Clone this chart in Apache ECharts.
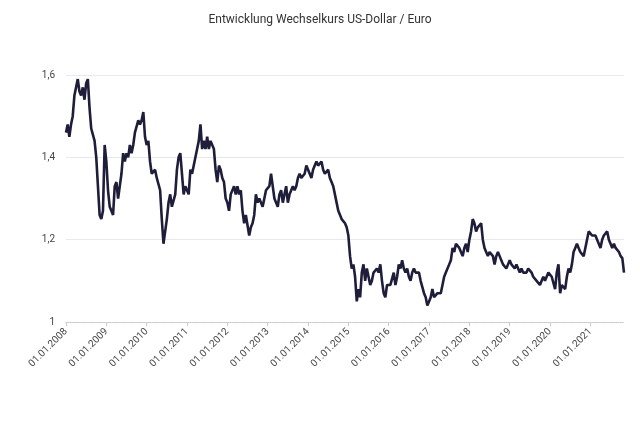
<!DOCTYPE html>
<html>
<head>
<meta charset="utf-8">
<script src="https://cdn.jsdelivr.net/npm/echarts@6/dist/echarts.min.js"></script>
<style>html,body{margin:0;padding:0;background:#fff}#c{width:640px;height:430px}</style>
</head>
<body>
<div id="c"></div>
<script>
const chartTitle = "Entwicklung Wechselkurs US-Dollar / Euro";
const startYear = 2008;
const yTicks = [1, 1.2, 1.4, 1.6];
// semi-monthly readings (1st and 15th of each month)
const v2008 = [1.46,1.48,1.45,1.48,1.50,1.55,1.57,1.59,1.56,1.55,1.57,1.54,1.58,1.59,1.52,1.47,1.47,1.44,1.40,1.33,1.26,1.25,1.27,1.43];
const v2009 = [1.39,1.32,1.28,1.27,1.26,1.33,1.34,1.30,1.33,1.36,1.41,1.39,1.41,1.40,1.43,1.41,1.43,1.46,1.46,1.49,1.48,1.49,1.51,1.45];
const v2010 = [1.43,1.44,1.39,1.36,1.36,1.37,1.35,1.35,1.32,1.25,1.19,1.22,1.25,1.29,1.31,1.28,1.28,1.31,1.37,1.40,1.41,1.36,1.31,1.33];
const v2011 = [1.33,1.31,1.37,1.36,1.38,1.40,1.42,1.44,1.48,1.42,1.44,1.42,1.45,1.42,1.44,1.44,1.42,1.37,1.34,1.38,1.37,1.35,1.34,1.30];
const v2012 = [1.29,1.27,1.31,1.31,1.33,1.31,1.33,1.31,1.32,1.27,1.24,1.26,1.26,1.21,1.23,1.24,1.26,1.31,1.29,1.30,1.29,1.28,1.30,1.32];
const v2013 = [1.32,1.33,1.36,1.33,1.30,1.30,1.28,1.31,1.32,1.29,1.31,1.33,1.29,1.31,1.32,1.33,1.32,1.33,1.35,1.36,1.35,1.35,1.36,1.38];
const v2014 = [1.38,1.36,1.35,1.37,1.38,1.39,1.38,1.38,1.39,1.37,1.36,1.36,1.37,1.35,1.34,1.33,1.31,1.29,1.27,1.27,1.25,1.25,1.24,1.23];
const v2015 = [1.21,1.16,1.13,1.14,1.11,1.05,1.08,1.06,1.12,1.14,1.10,1.13,1.11,1.09,1.10,1.12,1.12,1.13,1.12,1.14,1.10,1.07,1.06,1.09];
const v2016 = [1.09,1.09,1.09,1.12,1.09,1.11,1.14,1.13,1.15,1.13,1.12,1.13,1.11,1.10,1.12,1.13,1.12,1.12,1.12,1.10,1.10,1.07,1.06,1.04];
const v2017 = [1.05,1.06,1.08,1.06,1.06,1.07,1.07,1.07,1.09,1.11,1.12,1.12,1.14,1.15,1.18,1.17,1.19,1.19,1.18,1.18,1.16,1.18,1.19,1.17];
const v2018 = [1.20,1.22,1.25,1.24,1.22,1.23,1.23,1.24,1.20,1.18,1.17,1.16,1.17,1.17,1.16,1.14,1.16,1.17,1.16,1.15,1.14,1.14,1.13,1.14];
const v2019 = [1.15,1.14,1.14,1.13,1.14,1.13,1.12,1.13,1.12,1.12,1.12,1.13,1.13,1.12,1.11,1.11,1.10,1.10,1.09,1.10,1.11,1.10,1.10,1.12];
const v2020 = [1.12,1.11,1.11,1.08,1.12,1.14,1.07,1.09,1.09,1.08,1.11,1.13,1.12,1.14,1.17,1.18,1.19,1.18,1.17,1.17,1.16,1.18,1.20,1.22];
const v2021 = [1.22,1.21,1.21,1.21,1.20,1.19,1.18,1.20,1.21,1.21,1.22,1.20,1.19,1.18,1.19,1.18,1.18,1.17,1.16,1.155,1.12];

const yearly = [v2008,v2009,v2010,v2011,v2012,v2013,v2014,v2015,v2016,v2017,v2018,v2019,v2020,v2021];
const categories = [];
const values = [];
yearly.forEach((arr, yi) => {
  arr.forEach((v, k) => {
    const m = Math.floor(k / 2) + 1;
    const d = k % 2 === 0 ? 1 : 15;
    categories.push(String(d).padStart(2,'0') + '.' + String(m).padStart(2,'0') + '.' + (startYear + yi));
    values.push(v);
  });
});

const chart = echarts.init(document.getElementById('c'));
const showIdx = (i) => i % 24 === 0;
chart.setOption({
  animation: false,
  title: {
    text: chartTitle, left: 'center', top: 9,
    textStyle: { fontFamily: 'Roboto', fontSize: 12, fontWeight: 'normal', color: '#333' }
  },
  grid: { left: 66, right: 16, top: 75, bottom: 108 },
  xAxis: {
    type: 'category', data: categories, boundaryGap: false,
    axisLine: { show: true, lineStyle: { color: '#c8c8d0', type: 'dotted', width: 1 } },
    axisTick: { show: true, interval: showIdx, length: 4, lineStyle: { color: '#c8c8d0' } },
    axisLabel: { interval: showIdx, rotate: 45, fontFamily: 'Roboto', fontSize: 10, color: '#444', margin: 8 },
    splitLine: { show: false }
  },
  yAxis: {
    type: 'value', min: 1, max: 1.6, interval: 0.2,
    axisLine: { show: false }, axisTick: { show: false },
    axisLabel: { fontFamily: 'Roboto', fontSize: 10, color: '#444', margin: 11,
      formatter: (v) => yTicks.includes(Math.round(v*10)/10) ? String(Math.round(v*10)/10).replace('.', ',') : '' },
    splitLine: { lineStyle: { color: '#e8e8f0', width: 1 } }
  },
  series: [{
    type: 'line', data: values, showSymbol: false, smooth: false,
    lineStyle: { color: '#1e1e3a', width: 2.6 },
    itemStyle: { color: '#1e1e3a' }
  }]
});
</script>
</body>
</html>
